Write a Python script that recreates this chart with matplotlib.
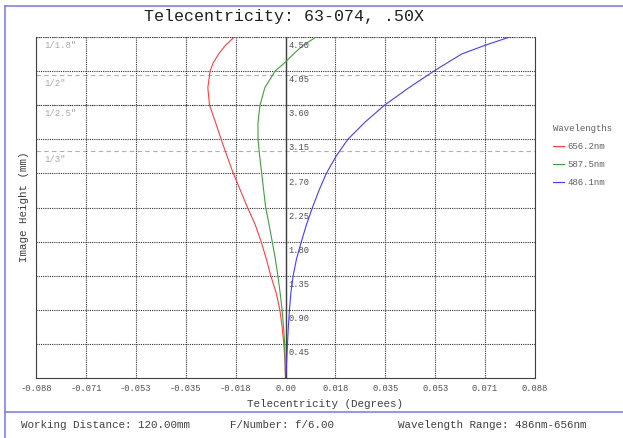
import matplotlib
matplotlib.use("Agg")
import matplotlib.pyplot as plt

plt.rcParams['font.family'] = ['Liberation Mono', 'DejaVu Sans Mono']

# Telecentricity (degrees) vs image height (mm)
h_red = [0, 0.225, 0.45, 0.675, 0.9, 1.125, 1.35, 1.575, 1.8, 2.025, 2.25,
         2.475, 2.7, 2.925, 3.15, 3.375, 3.6, 3.83, 4.05, 4.16, 4.275, 4.39, 4.5]
tel_red = [0, -0.0002, -0.0006, -0.0012, -0.0020, -0.0033, -0.0052, -0.0068,
           -0.0086, -0.0107, -0.0134, -0.0159, -0.0184, -0.0206, -0.0227,
           -0.0247, -0.0268, -0.0274, -0.0266, -0.0255, -0.0236, -0.0212, -0.0181]

h_green = [0, 0.225, 0.45, 0.675, 0.9, 1.125, 1.35, 1.575, 1.8, 2.025, 2.25,
           2.475, 2.7, 2.925, 3.15, 3.375, 3.6, 3.83, 4.05, 4.17, 4.275, 4.39, 4.5]
tel_green = [0, -0.0001, -0.0003, -0.0007, -0.0012, -0.0019, -0.0027, -0.0036,
             -0.0047, -0.0058, -0.0070, -0.0077, -0.0084, -0.0091, -0.0097,
             -0.0097, -0.0090, -0.0073, -0.0037, 0.0, 0.0028, 0.0062, 0.0108]

h_blue = [0, 0.225, 0.45, 0.675, 0.9, 1.125, 1.35, 1.575, 1.8, 2.025, 2.25,
          2.475, 2.7, 2.925, 3.15, 3.375, 3.6, 3.825, 4.05, 4.275, 4.39, 4.5]
tel_blue = [0, 0.0004, 0.0007, 0.0010, 0.0014, 0.0019, 0.0027, 0.0039,
            0.0056, 0.0074, 0.0095, 0.0118, 0.0144, 0.0178, 0.0220, 0.0280,
            0.0349, 0.0433, 0.0523, 0.0621, 0.0703, 0.0791]

wavelengths = ['656.2nm', '587.5nm', '486.1nm']
colors = ['#ff4040', '#40a040', '#4040ff']

x_ticks = [-0.088, -0.0704, -0.0528, -0.0352, -0.0176, 0, 0.0176, 0.0352, 0.0528, 0.0704, 0.088]
x_labels = ['-0.088', '-0.071', '-0.053', '-0.035', '-0.018', '0.00',
            '0.018', '0.035', '0.053', '0.071', '0.088']
y_ticks = [0.45, 0.9, 1.35, 1.8, 2.25, 2.7, 3.15, 3.6, 4.05, 4.5]
y_labels = ['0.45', '0.90', '1.35', '1.80', '2.25', '2.70', '3.15', '3.60', '4.05', '4.50']

sensors = ['1/1.8"', '1/2"', '1/2.5"', '1/3"']
sensor_h = [4.5, 4.0, 3.6, 3.0]

fig = plt.figure(figsize=(6.23, 4.38), dpi=100)
W, H = 623, 438
ax = fig.add_axes([36 / W, 1 - 378 / H, 499 / W, 341 / H])

# sensor size markers
for name, sh in zip(sensors, sensor_h):
    ax.axhline(sh, color='#b0b0b0', lw=0.8, ls=(0, (4, 3)), zorder=1)
    ax.annotate(name, (-0.088, sh), xytext=(6, -3), textcoords='offset points',
                va='top', ha='left', fontsize=6.5, color='#a8a8a8')

ax.axvline(0, color='#404040', lw=1.0, zorder=2)

ax.plot(tel_red, h_red, color=colors[0], lw=0.8, label=wavelengths[0], zorder=3)
ax.plot(tel_green, h_green, color=colors[1], lw=0.8, label=wavelengths[1], zorder=3)
ax.plot(tel_blue, h_blue, color=colors[2], lw=0.8, label=wavelengths[2], zorder=4)

ax.set_xlim(-0.088, 0.088)
ax.set_ylim(0, 4.5)
ax.set_xticks(x_ticks)
ax.set_xticklabels(x_labels)
ax.set_yticks(y_ticks)
ax.set_yticklabels([])
ax.tick_params(length=0, labelsize=6.3, labelcolor='#505050', pad=4)
ax.grid(True, color='#303030', lw=0.8, ls=(0, (1, 1)))

for yt, yl in zip(y_ticks, y_labels):
    ax.annotate(yl, (0, yt), xytext=(2, -3), textcoords='offset points',
                va='top', ha='left', fontsize=6.3, color='#505050')

for s in ['left', 'bottom', 'right']:
    ax.spines[s].set_color('#404040')
ax.spines['top'].set_visible(False)

leg = ax.legend(loc='upper left', bbox_to_anchor=(545 / W, 1 - 116 / H),
                bbox_transform=fig.transFigure, frameon=False, fontsize=6.5,
                title='Wavelengths', title_fontsize=6.5, handlelength=1.2,
                handletextpad=0.4, labelspacing=1.0, alignment='left')
for t in leg.get_texts():
    t.set_color('#606060')
leg.get_title().set_color('#606060')

fig.text(284 / W, 1 - 17 / H, 'Telecentricity: 63-074, .50X', ha='center',
         va='center', fontsize=12, color='#202020')
fig.text(325 / W, 1 - 404 / H, 'Telecentricity (Degrees)', ha='center',
         va='center', fontsize=7.8, color='#404040')
fig.text(24 / W, 1 - 207 / H, 'Image Height (mm)', ha='center', va='center',
         rotation=90, fontsize=7.8, color='#404040')

fig.text(21 / W, 1 - 425 / H, 'Working Distance: 120.00mm', ha='left',
         va='center', fontsize=7.8, color='#404040')
fig.text(230 / W, 1 - 425 / H, 'F/Number: f/6.00', ha='left',
         va='center', fontsize=7.8, color='#404040')
fig.text(398 / W, 1 - 425 / H, 'Wavelength Range: 486nm-656nm', ha='left',
         va='center', fontsize=7.8, color='#404040')

# blue frame
frame = '#8080f0'
fig.add_artist(plt.Line2D([5 / W, 1], [1 - 6 / H, 1 - 6 / H], color=frame, lw=1.2))
fig.add_artist(plt.Line2D([5 / W, 5 / W], [0, 1 - 6 / H], color=frame, lw=1.2))
fig.add_artist(plt.Line2D([5 / W, 1], [1 - 412 / H, 1 - 412 / H], color=frame, lw=1.2))

fig.savefig('out.png', dpi=100)
